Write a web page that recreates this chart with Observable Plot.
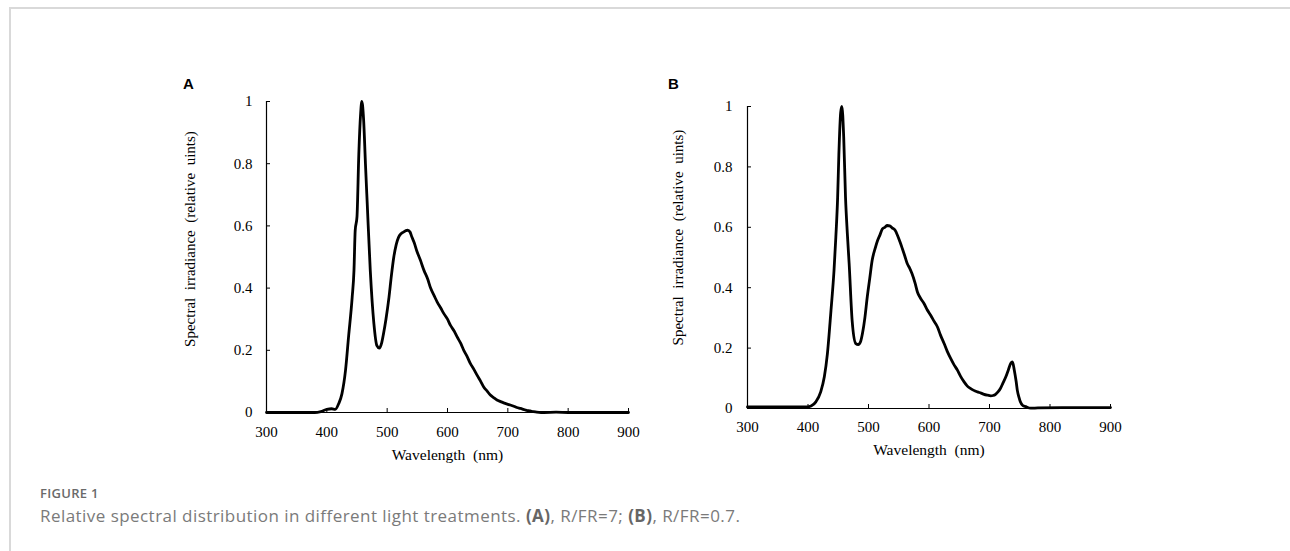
<!DOCTYPE html>
<html>
<head>
<meta charset="utf-8">
<script src="https://cdn.jsdelivr.net/npm/d3@7"></script>
<script src="https://cdn.jsdelivr.net/npm/@observablehq/plot@0.6"></script>
<style>
  html, body { margin: 0; padding: 0; background: #fff; }
  body { width: 1290px; height: 551px; position: relative; overflow: hidden; }
  #frame { position: absolute; left: 9px; top: 7px; width: 1290px; height: 600px;
           border-top: 2px solid #d9d9d9; border-left: 2px solid #d9d9d9; box-sizing: border-box; }
  .panel { position: absolute; z-index: 1; }
  .plabel { position: absolute; z-index: 2; font-family: "Liberation Sans", Arial, sans-serif; font-weight: bold; font-size: 15px; color: #000; }
  #figno { position: absolute; left: 40px; top: 484px; font-family: "Open Sans", sans-serif; font-weight: 600; font-size: 13px; letter-spacing: 0.3px; color: #6a6a6a; }
  #caption { position: absolute; left: 40px; top: 504px; font-family: "Open Sans", sans-serif; font-size: 17px; letter-spacing: 0.45px; color: #7a7a7a; white-space: nowrap; }
  #caption b { color: #666; font-weight: 700; }
</style>
</head>
<body>
<div id="frame"></div>
<div class="panel" id="pa" style="left:170px; top:85px;"></div>
<div class="panel" id="pb" style="left:660px; top:90px;"></div>
<div class="plabel" style="left:183px; top:75px;">A</div>
<div class="plabel" style="left:668px; top:75px;">B</div>
<div id="figno">FIGURE 1</div>
<div id="caption">Relative spectral distribution in different light treatments. <b>(A)</b>, R/FR=7; <b>(B)</b>, R/FR=0.7.</div>
<script>
// Panel A: R/FR = 7
const wavelengthA = [300, 340, 380, 390, 400, 408, 414, 420, 425, 431, 436, 442, 445, 447, 450, 453, 456, 458, 461, 464, 467, 472, 478, 483, 487, 491, 494, 498, 503, 507, 511, 515, 519, 523, 527, 531, 534, 538, 541, 545, 549, 555, 561, 567, 572, 578, 583, 589, 594, 600, 605, 611, 616, 622, 627, 633, 638, 644, 649, 655, 660, 666, 671, 677, 682, 688, 693, 699, 704, 710, 715, 721, 726, 731, 737, 742, 748, 755, 760, 780, 800, 850, 900];
const irradianceA = [0, 0, 0, 0.003, 0.01, 0.012, 0.01, 0.03, 0.06, 0.136, 0.243, 0.37, 0.457, 0.585, 0.63, 0.83, 0.96, 1.0, 0.94, 0.8, 0.67, 0.457, 0.286, 0.215, 0.207, 0.225, 0.254, 0.3, 0.37, 0.44, 0.5, 0.54, 0.564, 0.575, 0.58, 0.585, 0.586, 0.58, 0.564, 0.545, 0.52, 0.49, 0.457, 0.43, 0.40, 0.375, 0.355, 0.335, 0.318, 0.3, 0.28, 0.262, 0.243, 0.222, 0.2, 0.178, 0.157, 0.138, 0.12, 0.1, 0.082, 0.068, 0.056, 0.047, 0.04, 0.035, 0.031, 0.027, 0.024, 0.02, 0.016, 0.013, 0.01, 0.007, 0.005, 0.003, 0.001, 0.0, 0.0, 0.001, 0, 0, 0];

// Panel B: R/FR = 0.7
const wavelengthB = [300, 350, 399, 405, 413, 421, 427, 432, 438, 443, 446, 449, 451, 454, 456, 459, 462, 465, 468, 473, 479, 483, 487, 490, 494, 498, 502, 506, 511, 515, 519, 523, 527, 531, 535, 539, 544, 548, 552, 556, 560, 564, 568, 572, 577, 581, 586, 592, 597, 603, 608, 614, 619, 625, 630, 636, 641, 647, 652, 658, 663, 669, 674, 680, 686, 691, 697, 702, 706, 710, 714, 718, 722, 727, 731, 735, 738, 741, 744, 746, 749, 751, 755, 760, 768, 780, 820, 860, 900];
const irradianceB = [0.005, 0.005, 0.005, 0.008, 0.022, 0.055, 0.105, 0.18, 0.325, 0.457, 0.567, 0.70, 0.84, 0.98, 1.0, 0.9, 0.70, 0.58, 0.48, 0.29, 0.215, 0.212, 0.222, 0.248, 0.3, 0.37, 0.43, 0.49, 0.53, 0.556, 0.575, 0.595, 0.6, 0.606, 0.605, 0.598, 0.59, 0.573, 0.552, 0.529, 0.505, 0.48, 0.465, 0.446, 0.415, 0.385, 0.365, 0.347, 0.327, 0.308, 0.29, 0.27, 0.243, 0.215, 0.19, 0.165, 0.146, 0.127, 0.107, 0.088, 0.075, 0.066, 0.06, 0.055, 0.051, 0.047, 0.044, 0.042, 0.043, 0.047, 0.055, 0.066, 0.083, 0.105, 0.127, 0.149, 0.154, 0.127, 0.09, 0.06, 0.035, 0.022, 0.01, 0.006, 0.001, 0.002, 0.003, 0.003, 0.003];

const xTicks = [300, 400, 500, 600, 700, 800, 900];
const yTicks = [0, 0.2, 0.4, 0.6, 0.8, 1];
const xLabel = "Wavelength\u00a0 (nm)";
const yLabel = "Spectral\u00a0 irradiance\u00a0 (relative\u00a0 uints)";

function panel(wl, ir, o) {
  const data = wl.map((w, i) => ({nm: w, v: ir[i]}));
  return Plot.plot({
    width: o.width, height: o.height,
    marginLeft: o.ml, marginRight: 30, marginTop: 16, marginBottom: 60,
    style: {fontFamily: "'Liberation Serif', 'Times New Roman', serif", fontSize: "15px", color: "#000", background: "transparent", overflow: "visible"},
    x: {domain: [300, 900], ticks: xTicks},
    y: {domain: [0, 1], ticks: yTicks},
    marks: [
      Plot.axisX({ticks: xTicks, tickSize: 0, tickPadding: o.xpad, label: null, tickFormat: d3.format("d")}),
      Plot.axisX({ticks: xTicks, tickSize: -4, label: null, tickFormat: () => ""}),
      Plot.axisY({ticks: yTicks, tickSize: 0, tickPadding: o.ypad, label: null, tickFormat: d3.format("~g")}),
      Plot.axisY({ticks: yTicks, tickSize: -4, label: null, tickFormat: () => ""}),
      Plot.ruleY([0], {stroke: "#000", strokeWidth: 1.2}),
      Plot.ruleX([300], {stroke: "#000", strokeWidth: 1.2}),
      Plot.line(data, {x: "nm", y: "v", stroke: "#000", strokeWidth: 2.8, curve: "monotone-x", strokeLinejoin: "round"}),
      Plot.text([xLabel], {text: d => d, frameAnchor: "bottom", dy: o.xlab, lineAnchor: "middle", textAnchor: "middle", fontSize: 15.5}),
      Plot.text([yLabel], {text: d => d, frameAnchor: "left", rotate: -90, dx: o.ylabx, dy: o.ylaby, lineAnchor: "middle", textAnchor: "middle", fontSize: 15})
    ]
  });
}

document.getElementById("pa").appendChild(panel(wavelengthA, irradianceA, {width: 488, height: 387, ml: 96, xpad: 14, ypad: 14, xlab: 43, ylabx: -76, ylaby: -18}));
document.getElementById("pb").appendChild(panel(wavelengthB, irradianceB, {width: 480, height: 378, ml: 87, xpad: 13, ypad: 15, xlab: 42, ylabx: -69, ylaby: -20}));
</script>
</body>
</html>
